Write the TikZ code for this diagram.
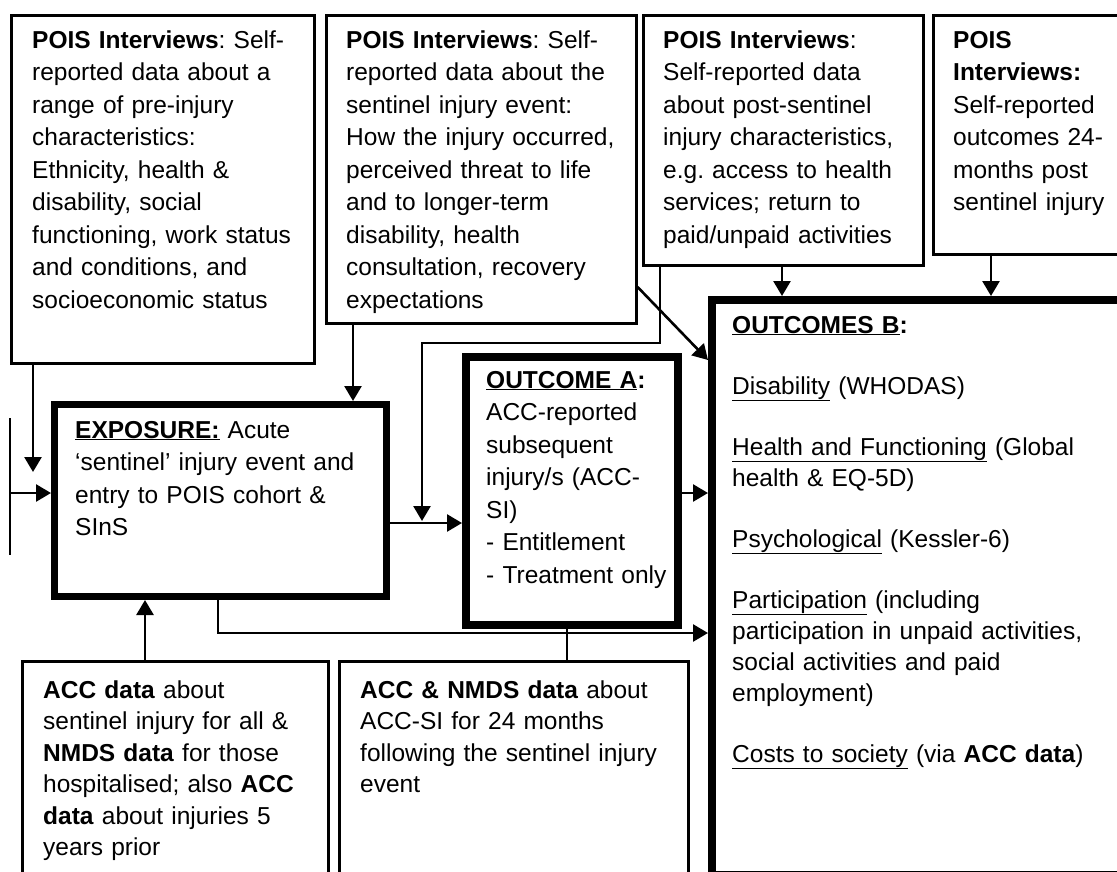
\documentclass[tikz,border=0pt]{standalone}
\usepackage{fontspec}
\setmainfont{Liberation Sans}
\usetikzlibrary{arrows.meta}
\frenchspacing
\begin{document}
\begin{tikzpicture}[x=1pt,y=-1pt,
  thinbox/.style={draw, line width=2.6pt, inner sep=0pt, anchor=north west},
  thickbox/.style={draw, line width=#1, inner sep=0pt, anchor=north west},
  txt/.style={anchor=base west, inner sep=0pt, text width=420pt, align=left,
              font=\fontsize{24.5}{#1}\selectfont\frenchspacing},
  txt/.default=32.5,
  conn/.style={line width=2.6pt},
  arr/.style={conn, -{Triangle[length=15pt,width=17pt]}}]
\useasboundingbox (0,0) rectangle (1117,871);
% boxes
\node[thinbox, minimum width=303pt, minimum height=348pt] (b1) at (10,14) {};
\node[thinbox, minimum width=310pt, minimum height=308pt] (b2) at (325,14) {};
\node[thinbox, minimum width=280pt, minimum height=250pt] (b3) at (642,14) {};
\node[thinbox, minimum width=200pt, minimum height=239pt] (b4) at (932,14) {};
\node[thickbox=7pt, minimum width=332pt, minimum height=192pt] (exp) at (51,401) {};
\node[thickbox=8pt, minimum width=212pt, minimum height=268pt] (oa) at (462,353) {};
\node[thickbox=8pt, minimum width=409pt, minimum height=575pt] (ob) at (708,296) {};
\node[thinbox, minimum width=306pt, minimum height=230pt] (b5) at (21,660) {};
\node[thinbox, minimum width=349pt, minimum height=230pt] (b6) at (338,660) {};
% texts
\node[txt] (t1) at (32,48) {\textbf{POIS Interviews}: Self-\\reported data about a\\range of pre-injury\\characteristics:\\Ethnicity, health \&\\disability, social\\functioning, work status\\and conditions, and\\socioeconomic status};
\node[txt] (t2) at (346,48) {\textbf{POIS Interviews}: Self-\\reported data about the\\sentinel injury event:\\How the injury occurred,\\perceived threat to life\\and to longer-term\\disability, health\\consultation, recovery\\expectations};
\node[txt] (t3) at (663,48) {\textbf{POIS Interviews}:\\Self-reported data\\about post-sentinel\\injury characteristics,\\e.g. access to health\\services; return to\\paid/unpaid activities};
\node[txt] (t4) at (953,48) {\textbf{POIS}\\\textbf{Interviews:}\\Self-reported\\outcomes 24-\\months post\\sentinel injury};
\node[txt] (t5) at (75,438) {\textbf{\underline{EXPOSURE:}} Acute\\‘sentinel’ injury event and\\entry to POIS cohort \&\\SInS};
\node[txt] (t6) at (486,388) {\textbf{\underline{OUTCOME A}:}\\ACC-reported\\subsequent\\injury/s (ACC-\\SI)\\- Entitlement\\- Treatment only};
\node[txt=31] (t7) at (732,333) {\textbf{\underline{OUTCOMES B}:}\\[30pt]\underline{Disability} (WHODAS)\\[30pt]\underline{Health and Functioning} (Global\\health \& EQ-5D)\\[30pt]\underline{Psychological} (Kessler-6)\\[30pt]\underline{Participation} (including\\participation in unpaid activities,\\social activities and paid\\employment)\\[30pt]\underline{Costs to society} (via \textbf{ACC data})};
\node[txt=31.5] (t8) at (43,698) {\textbf{ACC data} about\\sentinel injury for all \&\\\textbf{NMDS data} for those\\hospitalised; also \textbf{ACC}\\\textbf{data} about injuries 5\\years prior};
\node[txt=31.5] (t9) at (360,698) {\textbf{ACC \& NMDS data} about\\ACC-SI for 24 months\\following the sentinel injury\\event};
% connector coordinates
\coordinate (a1) at (33,472);
\coordinate (L1) at (10,418);
\coordinate (L2) at (10,555);
\coordinate (L0) at (10,493);
\coordinate (c2) at (353,0);
\coordinate (d1) at (0,287);
\coordinate (d2) at (0,360);
\coordinate (e2) at (660,343);
\coordinate (e3) at (422,343);
\coordinate (e4) at (422,521);
\coordinate (f) at (0,523);
\coordinate (g) at (0,493);
\coordinate (h) at (782,0);
\coordinate (i) at (991,0);
\coordinate (j1) at (218,633);
\coordinate (k) at (567,0);
\coordinate (l) at (145,0);
% connectors
\draw[arr] (b1.south -| a1) -- (a1);
\draw[conn] (L1) -- (L2);
\draw[arr] (L0) -- (L0 -| exp.west);
\draw[arr] (b2.south -| c2) -- (exp.north -| c2);
\draw[arr] (b2.east |- d1) -- (ob.west |- d2);
\draw[arr] (b3.south -| e2) -- (e2) -- (e3) -- (e4);
\draw[arr] (exp.east |- f) -- (oa.west |- f);
\draw[arr] (oa.east |- g) -- (ob.west |- g);
\draw[arr] (b3.south -| h) -- (ob.north -| h);
\draw[arr] (b4.south -| i) -- (ob.north -| i);
\draw[arr] (exp.south -| j1) -- (j1) -- (j1 -| ob.west);
\draw[conn] (oa.south -| k) -- (b6.north -| k);
\draw[arr] (b5.north -| l) -- (exp.south -| l);
\end{tikzpicture}
\end{document}
